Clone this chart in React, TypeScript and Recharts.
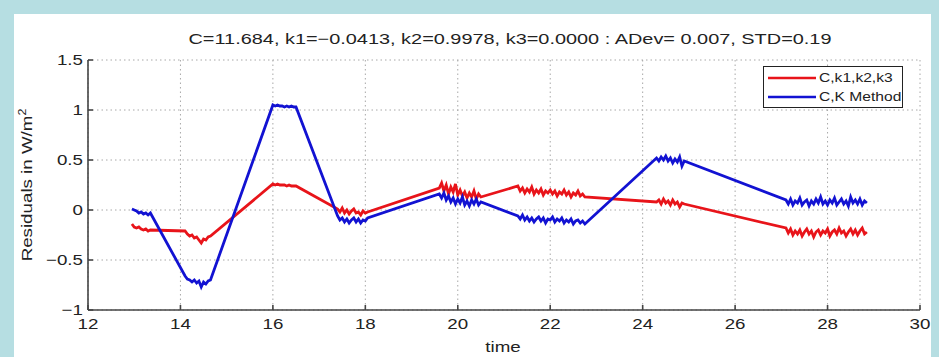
import React from 'react';
import { LineChart, Line, XAxis, YAxis, CartesianGrid, Customized } from 'recharts';

const times = [
  12.95, 13.0, 13.05, 13.1, 13.15, 13.2, 13.25, 13.3, 13.35,
  14.1, 14.15, 14.2, 14.25, 14.3, 14.35, 14.4, 14.45, 14.5, 14.55, 14.6, 14.65,
  16.0, 16.05, 16.1, 16.15, 16.2, 16.25, 16.3, 16.35, 16.4, 16.45, 16.5,
  17.4, 17.45, 17.5, 17.55, 17.6, 17.65, 17.7, 17.75, 17.8, 17.85, 17.9, 17.95, 18.0, 18.05,
  19.6, 19.65, 19.7, 19.75, 19.8, 19.85, 19.9, 19.95, 20.0, 20.05, 20.1, 20.15, 20.2, 20.25, 20.3, 20.35, 20.4, 20.45, 20.5,
  21.3, 21.35, 21.4, 21.45, 21.5, 21.55, 21.6, 21.65, 21.7, 21.75, 21.8, 21.85, 21.9, 21.95, 22.0,
  22.05, 22.1, 22.15, 22.2, 22.25, 22.3, 22.35, 22.4, 22.45, 22.5, 22.55, 22.6, 22.65, 22.7, 22.75,
  24.3, 24.35, 24.4, 24.45, 24.5, 24.55, 24.6, 24.65, 24.7, 24.75, 24.8, 24.85, 24.9,
  27.1, 27.15, 27.2, 27.25, 27.3, 27.35, 27.4, 27.45, 27.5, 27.55, 27.6, 27.65, 27.7, 27.75, 27.8, 27.85, 27.9, 27.95,
  28.0, 28.05, 28.1, 28.15, 28.2, 28.25, 28.3, 28.35, 28.4, 28.45, 28.5, 28.55, 28.6, 28.65, 28.7, 28.75, 28.8, 28.85,
];

const redVals = [
  -0.14, -0.17, -0.18, -0.17, -0.19, -0.2, -0.19, -0.21, -0.2,
  -0.21, -0.24, -0.26, -0.25, -0.28, -0.27, -0.3, -0.33, -0.29, -0.3, -0.27, -0.26,
  0.26, 0.25, 0.26, 0.25, 0.25, 0.25, 0.24, 0.25, 0.24, 0.24, 0.24,
  0.01, -0.02, 0.02, -0.03, 0.0, -0.04, -0.01, 0.01, -0.03, -0.02, -0.05, -0.01, -0.03, -0.02,
  0.22, 0.27, 0.19, 0.25, 0.16, 0.23, 0.18, 0.26, 0.15, 0.2, 0.14, 0.18, 0.12, 0.17, 0.13, 0.19, 0.11, 0.16, 0.13,
  0.24, 0.19, 0.22, 0.17, 0.21, 0.18, 0.23, 0.16, 0.2, 0.17, 0.21, 0.15, 0.19, 0.17, 0.2,
  0.16, 0.19, 0.14, 0.18, 0.16, 0.2, 0.15, 0.18, 0.13, 0.17, 0.15, 0.19, 0.14, 0.16, 0.13,
  0.08, 0.1, 0.06, 0.11, 0.07, 0.09, 0.05, 0.1, 0.06, 0.08, 0.03, 0.07, 0.06,
  -0.18, -0.23, -0.19, -0.25, -0.21, -0.24, -0.2, -0.26, -0.22, -0.19, -0.24, -0.21, -0.27, -0.22, -0.2, -0.25, -0.21, -0.23,
  -0.19, -0.26, -0.22, -0.2, -0.24, -0.18, -0.23, -0.21, -0.26, -0.22, -0.19, -0.24, -0.2, -0.25, -0.21, -0.18, -0.24, -0.22,
];

const blueVals = [
  0.01, 0.0, -0.01, -0.03, -0.02, -0.04, -0.03, -0.05, -0.03,
  -0.66, -0.69, -0.7, -0.72, -0.7, -0.73, -0.71, -0.77, -0.72, -0.74, -0.71, -0.7,
  1.05, 1.04, 1.05, 1.04, 1.04, 1.03, 1.04, 1.03, 1.04, 1.03, 1.03,
  -0.06, -0.1, -0.08, -0.12, -0.09, -0.13, -0.1, -0.08, -0.12, -0.09, -0.13, -0.1, -0.11, -0.08,
  0.16, 0.12, 0.17, 0.1, 0.14, 0.08, 0.12, 0.06, 0.11, 0.07, 0.13, 0.05, 0.09, 0.04, 0.1, 0.06, 0.11, 0.05, 0.08,
  -0.06, -0.09, -0.05, -0.1, -0.07, -0.11, -0.08, -0.12, -0.09, -0.07, -0.11, -0.08, -0.13, -0.09, -0.1,
  -0.07, -0.12, -0.09, -0.11, -0.08, -0.13, -0.1, -0.12, -0.09, -0.14, -0.11, -0.1, -0.13, -0.11, -0.14,
  0.52, 0.49, 0.53, 0.5, 0.54, 0.49, 0.52, 0.47, 0.51, 0.48, 0.53, 0.44, 0.49,
  0.1, 0.06, 0.11, 0.05, 0.09, 0.07, 0.12, 0.05, 0.08, 0.1, 0.04, 0.09, 0.06, 0.11, 0.07, 0.13, 0.06, 0.09,
  0.05, 0.1, 0.07, 0.12, 0.05, 0.08, 0.11, 0.06, 0.09, 0.04, 0.13, 0.07, 0.1, 0.06, 0.11, 0.05, 0.09, 0.07,
];

const xTicks = [12, 14, 16, 18, 20, 22, 24, 26, 28, 30];
const yTicks = [-1, -0.5, 0, 0.5, 1, 1.5];
const seriesNames = ['C,k1,k2,k3', 'C,K Method'];
const titleText = 'C=11.684, k1=\u22120.0413, k2=0.9978, k3=0.0000 : ADev= 0.007, STD=0.19';
const xLabel = 'time';
const yLabel = 'Residuals in W/m';

const RED = '#e8141a';
const BLUE = '#1212d2';
const FONT = '"Liberation Sans", Arial, Helvetica, sans-serif';
const TXT = '#222';

const data = times.map((t, i) => ({ t, red: redVals[i], blue: blueVals[i] }));

const fmt = (v: number) => (v < 0 ? '\u2212' + Math.abs(v) : String(v));

function XTick(props: any) {
  const { x, y, payload } = props;
  return (
    <text x={0} y={0} transform={`translate(${x},${y}) scale(1.25,1)`} textAnchor="middle"
      dominantBaseline="hanging" fontSize={15} fontFamily={FONT} fill={TXT}>
      {fmt(payload.value)}
    </text>
  );
}

function YTick(props: any) {
  const { x, y, payload } = props;
  return (
    <text x={0} y={0} transform={`translate(${x},${y}) scale(1.25,1)`} textAnchor="end"
      dominantBaseline="central" fontSize={15} fontFamily={FONT} fill={TXT}>
      {fmt(payload.value)}
    </text>
  );
}

function Texts() {
  return (
    <g fontFamily={FONT} fill={TXT}>
      <text x={510} y={44} textAnchor="middle" fontSize={15} textLength={643} lengthAdjust="spacingAndGlyphs">
        {titleText}
      </text>
      <text x={0} y={0} transform="translate(503,352) scale(1.25,1)" textAnchor="middle" fontSize={15}>
        {xLabel}
      </text>
      <text x={0} y={0} transform="translate(32,185) rotate(-90) scale(1.25,1)" textAnchor="middle" fontSize={15}>
        {yLabel}
        <tspan dy={-6} fontSize={10}>2</tspan>
      </text>
    </g>
  );
}

function LegendBox() {
  return (
    <div style={{ position: 'absolute', left: 763, top: 66, width: 140, height: 42, boxSizing: 'border-box', border: '1.5px solid #222', background: '#fff' }}>
      <svg width={137} height={39} style={{ display: 'block' }}>
        <line x1={4} x2={52} y1={11} y2={11} stroke={RED} strokeWidth={2.5} />
        <line x1={4} x2={52} y1={30} y2={30} stroke={BLUE} strokeWidth={2.5} />
        <text x={0} y={0} transform="translate(55,15) scale(1.3,1)" fontSize={12} fontFamily={FONT} fill={TXT}>
          {seriesNames[0]}
        </text>
        <text x={0} y={0} transform="translate(55,34) scale(1.3,1)" fontSize={12} fontFamily={FONT} fill={TXT}>
          {seriesNames[1]}
        </text>
      </svg>
    </div>
  );
}

export default function App() {
  return (
    <div style={{ position: 'absolute', left: 0, top: 0, width: 939, height: 357, background: '#b6dee2', overflow: 'hidden' }}>
      <div style={{ position: 'absolute', left: 14, top: 14, width: 917, height: 343, background: '#fff' }} />
      <div style={{ position: 'absolute', left: 0, top: 0 }}>
        <LineChart width={939} height={357} data={data} margin={{ top: 60, right: 19, bottom: 17, left: 0 }}>
          <CartesianGrid stroke="#a8a8a8" strokeDasharray="1.5 3" strokeWidth={1} />
          <XAxis dataKey="t" type="number" domain={[12, 30]} ticks={xTicks} allowDataOverflow
            height={30} tickSize={-5} tickMargin={13} stroke="#444" strokeWidth={1.6} tick={<XTick />} />
          <XAxis xAxisId="top" orientation="top" type="number" domain={[12, 30]} ticks={xTicks} allowDataOverflow
            height={0} tickSize={-5} tick={false} stroke="#444" strokeWidth={1.6} />
          <YAxis type="number" domain={[-1, 1.5]} ticks={yTicks} allowDataOverflow width={88}
            tickSize={-5} tickMargin={10} stroke="#444" strokeWidth={1.6} tick={<YTick />} />
          <YAxis yAxisId="right" orientation="right" type="number" domain={[-1, 1.5]} ticks={yTicks} allowDataOverflow
            width={0} tickSize={-5} tick={false} stroke="#444" strokeWidth={1.6} />
          <Line type="linear" dataKey="red" name={seriesNames[0]} stroke={RED} strokeWidth={2.8} dot={false} isAnimationActive={false} />
          <Line type="linear" dataKey="blue" name={seriesNames[1]} stroke={BLUE} strokeWidth={2.8} dot={false} isAnimationActive={false} />
          <Customized component={Texts} />
        </LineChart>
      </div>
      <LegendBox />
    </div>
  );
}
